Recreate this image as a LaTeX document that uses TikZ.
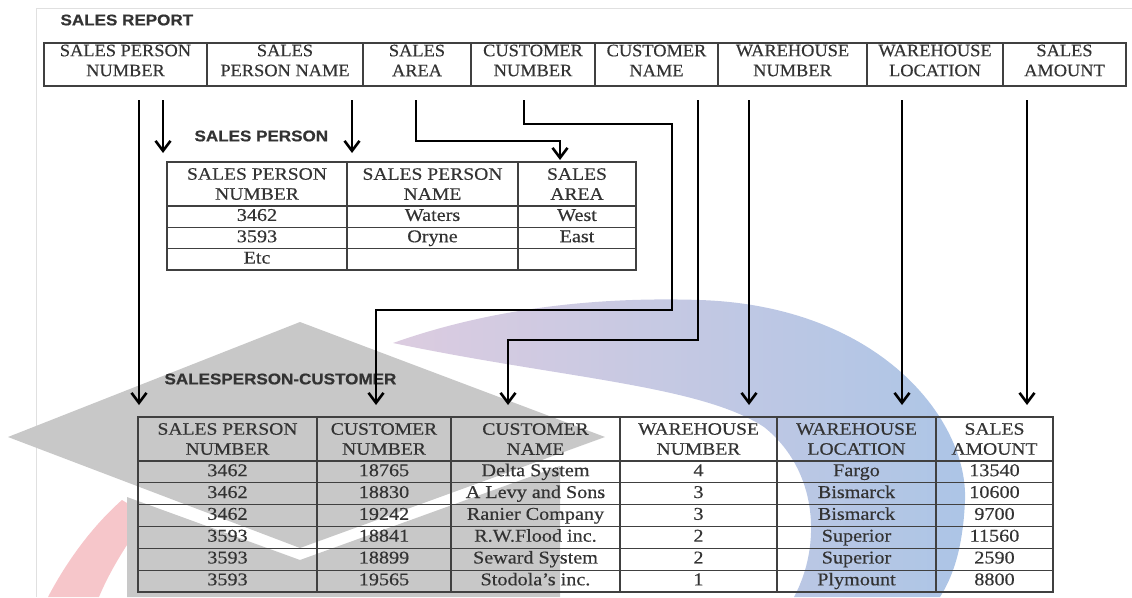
\documentclass[tikz,border=0pt]{standalone}
\usepackage{fontspec}
\setmainfont{Liberation Serif}
\newfontfamily\tabfont{Liberation Serif}[FakeStretch=1.12, FakeBold=0.4]
\newfontfamily\repfont{Liberation Serif}[FakeStretch=1.05, FakeBold=0.4]
\newfontfamily\titlefont{Liberation Sans}[FakeStretch=1.1, FakeBold=0.6]
\usetikzlibrary{arrows.meta,positioning}

\definecolor{capgray}{RGB}{200,200,200}
\definecolor{markpink}{RGB}{246,198,202}
\definecolor{markpurple}{RGB}{220,204,224}
\definecolor{markblue}{RGB}{172,197,230}

\begin{document}
\begin{tikzpicture}[x=1pt, y=-1pt,
        cell/.style={draw=black!75, line width=1.3pt, inner sep=0pt, outer sep=0pt, anchor=north west,
            align=center, text=black!80, font=\tabfont\fontsize{17.5}{20}\selectfont},
        datacell/.style={cell, text height=12pt, text depth=3.5pt, font=\tabfont\fontsize{18}{20}\selectfont},
        repcell/.style={cell, minimum height=43pt},
        reptext/.style={align=center, inner sep=0pt, text=black!80, font=\repfont\fontsize{17.5}{20}\selectfont},
        title/.style={anchor=west, text=black!80, font=\titlefont\bfseries\fontsize{15.5}{18}\selectfont},
        arr/.style={line width=2.6pt, -{Straight Barb[length=10pt,width=15pt,line width=2.6pt]}}
    ]
    \useasboundingbox (0,0) rectangle (1132,597);
    % Rahmen und Wasserzeichen
    \draw[black!12, line width=1pt] (36,597) -- (36,8) -- (1132,8);
    \fill[markpink] (48,597) .. controls (70,555) and (97,522) .. (122,500) -- (127,503) -- (127,545)
        .. controls (116,562) and (106,580) .. (99,597) -- cycle;
    \shade[left color=markpurple, right color=markblue] (393,343) .. controls (500,305) and (610,297) .. (700,300)
        .. controls (880,306) and (968,420) .. (965,500) .. controls (963,550) and (952,578) .. (940,597)
        -- (794,597) .. controls (822,545) and (818,470) .. (764,427) .. controls (700,385) and (560,378) .. (393,343) -- cycle;
    \fill[capgray] (8,437) -- (300,322) -- (605,437) -- (300,548) -- cycle;
    \fill[capgray] (127,497) -- (300,560) -- (560,466) -- (560,597) -- (127,597) -- cycle;

    % SALES REPORT
    \node[title] (trep) at (57,20) {SALES REPORT};
    \foreach \x/\w/\t [count=\i] in {44/163/{SALES PERSON\\NUMBER}, 207/156/{SALES\\PERSON NAME},
            363/108/{SALES\\AREA}, 471/124/{CUSTOMER\\NUMBER}, 595/123/{CUSTOMER\\NAME},
            718/149/{WAREHOUSE\\NUMBER}, 867/136/{WAREHOUSE\\LOCATION}, 1003/123/{SALES\\AMOUNT}}{
        \node[repcell, minimum width=\w pt] (rp\i) at (\x,43) {};
        \node[reptext] (rpt\i) at ([yshift=4pt]rp\i.center) {\t};
    }

    % SALES PERSON
    \node[title] (tsp) at (191,136) {SALES PERSON};
    \foreach \x/\w/\t [count=\i] in {167/180/{SALES PERSON\\NUMBER}, 347/171/{SALES PERSON\\NAME}, 518/118/{SALES\\AREA}}
        \node[cell, minimum width=\w pt, minimum height=44pt] (sp\i) at (\x,162) {\t};
    \foreach \a/\b/\c [count=\r] in {3462/Waters/West, 3593/Oryne/East, Etc/{}/{}}
        \foreach \x/\w/\t [count=\i] in {167/180/\a, 347/171/\b, 518/118/\c}
            \node[datacell, minimum width=\w pt, minimum height=21.33pt] (sp\r-\i) at (\x,{206+21.33*(\r-1)}) {\t};

    % SALESPERSON-CUSTOMER
    \node[title] (tsc) at (161,379) {SALESPERSON-CUSTOMER};
    \foreach \x/\w/\t [count=\i] in {138/179/{SALES PERSON\\NUMBER}, 317/134/{CUSTOMER\\NUMBER},
            451/169/{CUSTOMER\\NAME}, 620/157/{WAREHOUSE\\NUMBER}, 777/159/{WAREHOUSE\\LOCATION}, 936/117/{SALES\\AMOUNT}}
        \node[cell, minimum width=\w pt, minimum height=44pt] (sc\i) at (\x,417) {\t};
    \foreach \a/\b/\c/\d/\e/\f [count=\r] in {3462/18765/Delta System/4/Fargo/13540,
            3462/18830/A Levy and Sons/3/Bismarck/10600, 3462/19242/Ranier Company/3/Bismarck/9700,
            3593/18841/R.W.Flood inc./2/Superior/11560, 3593/18899/Seward System/2/Superior/2590,
            3593/19565/Stodola’s inc./1/Plymount/8800}
        \foreach \x/\w/\t [count=\i] in {138/179/\a, 317/134/\b, 451/169/\c, 620/157/\d, 777/159/\e, 936/117/\f}
            \node[datacell, minimum width=\w pt, minimum height=21.83pt] (sc\r-\i) at (\x,{461+21.83*(\r-1)}) {\t};

    % Pfeile
    \coordinate (s1) at ([xshift=13.5pt,yshift=-14pt]rp1.south);
    \coordinate (s2) at ([xshift=37.5pt,yshift=-14pt]rp1.south);
    \coordinate (s3) at ([xshift=67pt,yshift=-14pt]rp2.south);
    \coordinate (s4) at ([xshift=-1pt,yshift=-14pt]rp3.south);
    \coordinate (s5) at ([xshift=-9pt,yshift=-14pt]rp4.south);
    \coordinate (s6) at ([xshift=41.5pt,yshift=-14pt]rp5.south);
    \coordinate (s7) at ([xshift=-43.5pt,yshift=-14pt]rp6.south);
    \coordinate (s8) at ([xshift=-33pt,yshift=-14pt]rp7.south);
    \coordinate (s9) at ([xshift=-37.5pt,yshift=-14pt]rp8.south);
    \draw[arr, shorten >=12pt] (s1) -- (s1 |- sc1.north);
    \draw[arr, shorten >=9pt] (s2) -- (s2 |- sp1.north);
    \draw[arr, shorten >=9pt] (s3) -- (s3 |- sp2.north);
    \draw[arr, shorten >=2pt] (s4) -- ++(0,41) -| ([xshift=-17pt]sp3.north);
    \draw[arr, shorten >=12pt] (s5) -- ++(0,24) -- ++(148,0) -- ++(0,186) -| ([xshift=-8pt]sc2.north);
    \draw[arr, shorten >=12pt] (s6) -- ++(0,240) -| ([xshift=-27.5pt]sc3.north);
    \draw[arr, shorten >=12pt] (s7) -- (s7 |- sc4.north);
    \draw[arr, shorten >=12pt] (s8) -- (s8 |- sc5.north);
    \draw[arr, shorten >=12pt] (s9) -- (s9 |- sc6.north);
\end{tikzpicture}
\end{document}
